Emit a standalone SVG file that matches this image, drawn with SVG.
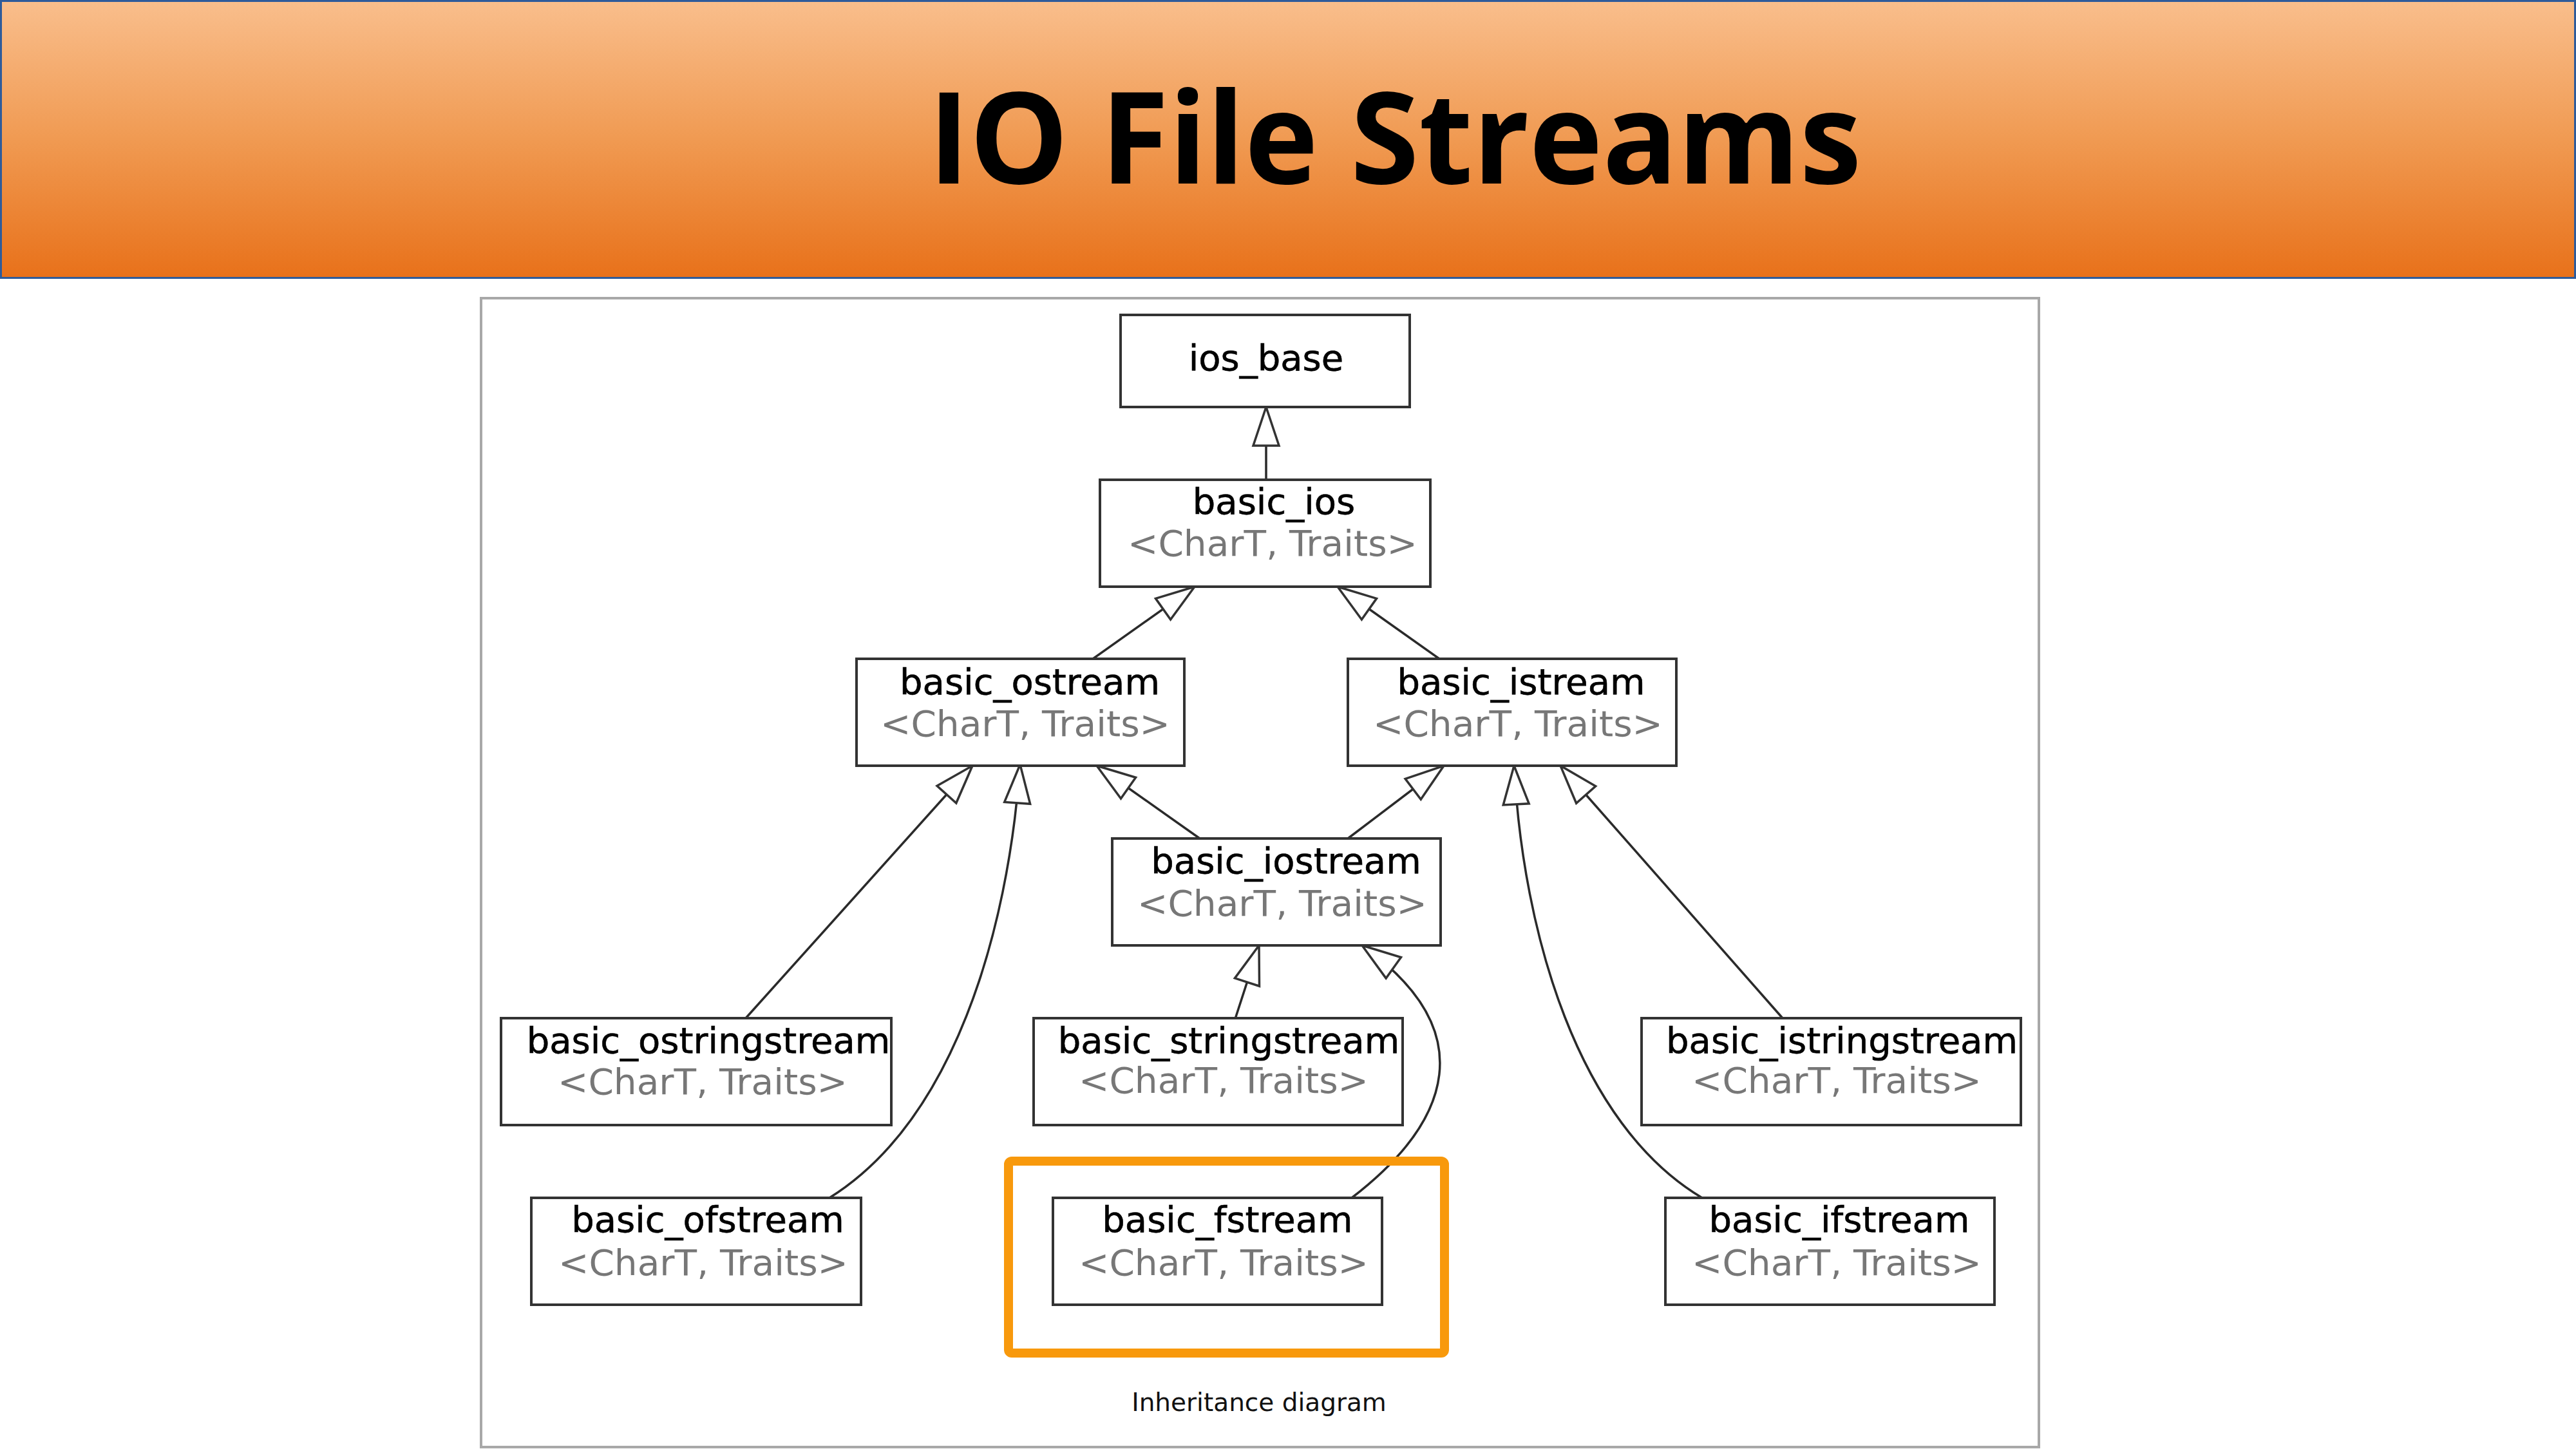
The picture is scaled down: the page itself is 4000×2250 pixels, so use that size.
<svg xmlns="http://www.w3.org/2000/svg" width="4000" height="2250" viewBox="0 0 4000 2250">
<defs>
<linearGradient id="hdr" x1="0" y1="0" x2="0" y2="1">
<stop offset="0" stop-color="#f9be8c"/>
<stop offset="0.5" stop-color="#f09a52"/>
<stop offset="1" stop-color="#e8711a"/>
</linearGradient>
<marker id="tri" viewBox="-3 -3 66 46" refX="60" refY="20" markerWidth="66" markerHeight="46" markerUnits="userSpaceOnUse" orient="auto">
<path d="M0,0 L60,20 L0,40 Z" fill="#fff" stroke="#333" stroke-width="3.5" stroke-linejoin="miter"/>
</marker>
<style>
.box{fill:#fff;stroke:#333;stroke-width:4}
.nm{font-family:"DejaVu Sans",Verdana,sans-serif;font-size:56px;fill:#000;stroke:#000;stroke-width:0.6;text-anchor:middle}
.tp{font-family:"DejaVu Sans",Verdana,sans-serif;font-size:56px;fill:#777;text-anchor:middle}
.edge{fill:none;stroke:#2a2a2a;stroke-width:3.5;marker-end:url(#tri)}
</style>
</defs>
<rect x="0" y="0" width="4000" height="2250" fill="#fff"/>
<g id="header">
<rect x="1.5" y="1.5" width="3997" height="430" fill="url(#hdr)" stroke="#2e5b9a" stroke-width="3"/>
<text x="2166" y="285" font-family="'Open Sans',sans-serif" font-weight="700" font-size="198" fill="#000" text-anchor="middle" textLength="1449" lengthAdjust="spacingAndGlyphs">IO File Streams</text>
</g>
<rect id="frame" x="747" y="463" width="2419" height="1784" fill="#fff" stroke="#a8a8a8" stroke-width="4"/>
<g id="connectors">
<path class="edge" d="M1966,745 L1966,632"/>
<path class="edge" d="M1697,1023 L1855,911"/>
<path class="edge" d="M2235,1023 L2077,911"/>
<path class="edge" d="M1863,1302 L1703,1189"/>
<path class="edge" d="M2093,1302 L2242,1189"/>
<path class="edge" d="M1158,1581 L1510,1189"/>
<path class="edge" d="M1288,1860 C1480,1740 1565,1450 1584,1187"/>
<path class="edge" d="M1918,1582 L1955,1468"/>
<path class="edge" d="M2099,1860 C2255,1740 2300,1600 2115,1468"/>
<path class="edge" d="M2768,1581 L2423,1189"/>
<path class="edge" d="M2643,1860 C2450,1745 2365,1450 2351,1189"/>
</g>
<g id="ios_base">
<rect class="box" x="1740" y="489" width="449" height="143"/>
<text class="nm" x="1966" y="575">ios_base</text>
</g>
<g id="basic_ios">
<rect class="box" x="1708" y="745" width="513" height="166"/>
<text class="nm" x="1978" y="798">basic_ios</text>
<text class="tp" x="1976" y="863" textLength="450" lengthAdjust="spacingAndGlyphs">&lt;CharT, Traits&gt;</text>
</g>
<g id="basic_ostream">
<rect class="box" x="1330" y="1023" width="509" height="166"/>
<text class="nm" x="1599" y="1078">basic_ostream</text>
<text class="tp" x="1592" y="1143" textLength="450" lengthAdjust="spacingAndGlyphs">&lt;CharT, Traits&gt;</text>
</g>
<g id="basic_istream">
<rect class="box" x="2093" y="1023" width="510" height="166"/>
<text class="nm" x="2362" y="1078">basic_istream</text>
<text class="tp" x="2357" y="1143" textLength="450" lengthAdjust="spacingAndGlyphs">&lt;CharT, Traits&gt;</text>
</g>
<g id="basic_iostream">
<rect class="box" x="1727" y="1302" width="510" height="166"/>
<text class="nm" x="1997" y="1356">basic_iostream</text>
<text class="tp" x="1991" y="1422" textLength="450" lengthAdjust="spacingAndGlyphs">&lt;CharT, Traits&gt;</text>
</g>
<g id="basic_ostringstream">
<rect class="box" x="778" y="1581" width="606" height="166"/>
<text class="nm" x="1100" y="1635">basic_ostringstream</text>
<text class="tp" x="1091" y="1699" textLength="450" lengthAdjust="spacingAndGlyphs">&lt;CharT, Traits&gt;</text>
</g>
<g id="basic_stringstream">
<rect class="box" x="1605" y="1581" width="573" height="166"/>
<text class="nm" x="1908" y="1635">basic_stringstream</text>
<text class="tp" x="1900" y="1697" textLength="450" lengthAdjust="spacingAndGlyphs">&lt;CharT, Traits&gt;</text>
</g>
<g id="basic_istringstream">
<rect class="box" x="2549" y="1581" width="589" height="166"/>
<text class="nm" x="2860" y="1635">basic_istringstream</text>
<text class="tp" x="2852" y="1697" textLength="450" lengthAdjust="spacingAndGlyphs">&lt;CharT, Traits&gt;</text>
</g>
<g id="basic_ofstream">
<rect class="box" x="825" y="1860" width="512" height="166"/>
<text class="nm" x="1099" y="1913">basic_ofstream</text>
<text class="tp" x="1092" y="1980" textLength="450" lengthAdjust="spacingAndGlyphs">&lt;CharT, Traits&gt;</text>
</g>
<g id="basic_fstream">
<rect class="box" x="1635" y="1860" width="511" height="166"/>
<text class="nm" x="1906" y="1913">basic_fstream</text>
<text class="tp" x="1900" y="1980" textLength="450" lengthAdjust="spacingAndGlyphs">&lt;CharT, Traits&gt;</text>
</g>
<g id="basic_ifstream">
<rect class="box" x="2586" y="1860" width="511" height="166"/>
<text class="nm" x="2856" y="1913">basic_ifstream</text>
<text class="tp" x="2852" y="1980" textLength="450" lengthAdjust="spacingAndGlyphs">&lt;CharT, Traits&gt;</text>
</g>
<rect id="highlight" x="1566" y="1803" width="677" height="298" rx="5" fill="none" stroke="#f8990c" stroke-width="14"/>
<text id="caption" x="1955" y="2191" font-family="'DejaVu Sans',Verdana,sans-serif" font-size="39" fill="#111" text-anchor="middle">Inheritance diagram</text>
</svg>
